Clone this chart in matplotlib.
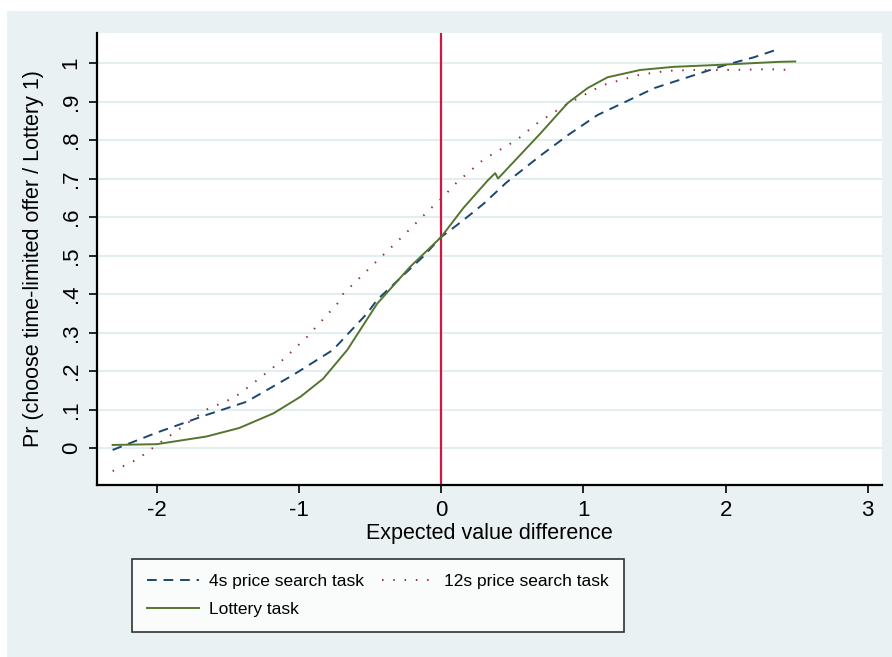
import matplotlib
matplotlib.use("Agg")
import matplotlib.pyplot as plt
from matplotlib.patches import Rectangle
from matplotlib import font_manager

plt.rcParams['font.family'] = ['Liberation Sans', 'DejaVu Sans']
plt.rcParams['axes.unicode_minus'] = False

# 4s price search task
x_4s = [-2.31, -2.0, -1.65, -1.37, -1.04, -0.76, -0.52, -0.45, -0.13, 0.0, 0.15, 0.3, 0.46,
        0.7, 0.9, 1.0, 1.1, 1.3, 1.5, 1.75, 2.0, 2.2, 2.37]
y_4s = [-0.005, 0.04, 0.086, 0.12, 0.19, 0.255, 0.35, 0.385, 0.496, 0.548, 0.59, 0.635, 0.69,
        0.76, 0.815, 0.84, 0.865, 0.9, 0.935, 0.965, 0.995, 1.015, 1.036]

# 12s price search task
x_12s = [-2.31, -2.14, -1.98, -1.82, -1.65, -1.46, -1.35, -1.11, -0.94, -0.73, -0.69, -0.44,
         -0.27, -0.08, 0.0, 0.11, 0.3, 0.53, 0.68, 0.87, 1.07, 1.14, 1.4, 1.6, 1.78, 2.05, 2.3, 2.46]
y_12s = [-0.06, -0.03, 0.013, 0.055, 0.1, 0.13, 0.16, 0.23, 0.29, 0.375, 0.40, 0.49,
         0.55, 0.62, 0.647, 0.69, 0.75, 0.80, 0.845, 0.89, 0.93, 0.943, 0.97, 0.98, 0.982, 0.982, 0.984, 0.982]

# Lottery task
x_lot = [-2.31, -2.0, -1.65, -1.42, -1.18, -0.99, -0.83, -0.66, -0.45, -0.22, 0.0, 0.155, 0.33,
         0.38, 0.40, 0.535, 0.70, 0.89, 1.03, 1.17, 1.40, 1.63, 1.94, 2.37, 2.49]
y_lot = [0.008, 0.01, 0.03, 0.052, 0.09, 0.133, 0.18, 0.255, 0.375, 0.47, 0.548, 0.623, 0.696,
         0.714, 0.70, 0.753, 0.818, 0.896, 0.935, 0.963, 0.982, 0.99, 0.995, 1.003, 1.004]

y_ticks = [0, .1, .2, .3, .4, .5, .6, .7, .8, .9, 1]
y_labels = ['0', '.1', '.2', '.3', '.4', '.5', '.6', '.7', '.8', '.9', '1']
x_ticks = [-2, -1, 0, 1, 2, 3]

# condensed font for the legend, if one is around
names = {f.name for f in font_manager.fontManager.ttflist}
leg_family = 'Liberation Sans Narrow' if 'Liberation Sans Narrow' in names else 'Liberation Sans'
leg_size = 14 if leg_family == 'Liberation Sans Narrow' else 12.5

bg = '#e9f1f3'
fig = plt.figure(figsize=(8.92, 6.57), dpi=100)
fig.patch.set_facecolor('white')
fig.patches.append(Rectangle((7/892, 0), 1, 1 - 11/657, transform=fig.transFigure,
                             facecolor=bg, edgecolor='none', zorder=-10))

ax = fig.add_axes([97/892, 1 - 485/657, 785/892, 452/657])
ax.set_facecolor('white')

for y in y_ticks:
    ax.axhline(y, color='#e4edf0', lw=1.5, zorder=0)
ax.axvline(0, color='#d0173f', lw=1.6, zorder=1)

l4, = ax.plot(x_4s, y_4s, color='#1a476f', lw=1.4, dashes=(5, 3.5), label='4s price search task')
l12, = ax.plot(x_12s, y_12s, color='#90353b', lw=1.4, dashes=(0.8, 5), label='12s price search task')
llot, = ax.plot(x_lot, y_lot, color='#55752f', lw=1.4, label='Lottery task')

ax.set_xlim(-2.42, 3.1)
ax.set_ylim(-0.096, 1.078)
ax.set_xticks(x_ticks)
ax.set_yticks(y_ticks)
ax.set_yticklabels(y_labels, rotation=90, va='center')
ax.tick_params(labelsize=16, length=6, width=1.2, colors='black', pad=5)
for s in ['top', 'right']:
    ax.spines[s].set_visible(False)
ax.spines['left'].set_linewidth(1.6)
ax.spines['bottom'].set_linewidth(1.6)

ax.set_xlabel('Expected value difference', fontsize=15.5, labelpad=1)
ax.set_ylabel('Pr (choose time-limited offer / Lottery 1)', fontsize=15.5, labelpad=12)

leg = fig.legend([l4, llot, l12], [l4.get_label(), llot.get_label(), l12.get_label()],
                 loc='upper left', bbox_to_anchor=(132/892, 1 - 559/657), ncol=2,
                 frameon=True, fancybox=False, handlelength=3.0, handletextpad=0.6,
                 columnspacing=1.0, borderpad=0.85, labelspacing=0.75, borderaxespad=0,
                 prop={'family': leg_family, 'size': leg_size})
leg.get_frame().set_edgecolor('black')
leg.get_frame().set_linewidth(1.2)

fig.savefig('out.png', dpi=100, facecolor=fig.get_facecolor())
